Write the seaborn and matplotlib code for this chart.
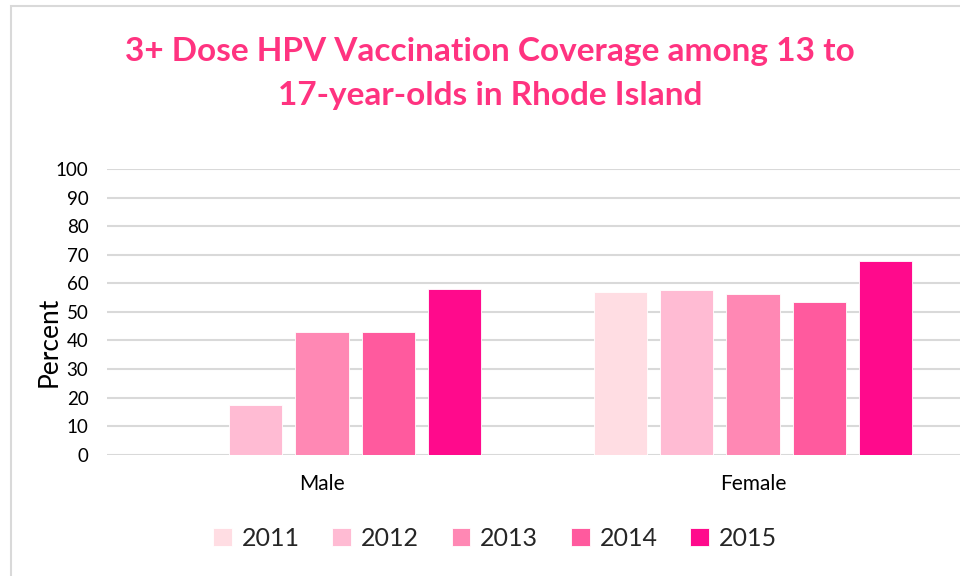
import numpy as np
import pandas as pd
import matplotlib.pyplot as plt
import seaborn as sns
from matplotlib.patches import Rectangle

# data
groups = ["Male", "Female"]
years = ["2011", "2012", "2013", "2014", "2015"]
male = [np.nan, 17.4, 43.1, 42.8, 58.0]
female = [56.8, 57.5, 56.4, 53.6, 67.9]
colors = ["#FFDDE3", "#FFBBD3", "#FF88B4", "#FF5A9E", "#FF0A8C"]
title_color = "#FF3380"

df = pd.DataFrame({
    "group": np.repeat(groups, len(years)),
    "year": years * len(groups),
    "value": male + female,
})

sns.set_theme(style="white")
plt.rcParams["font.family"] = ["Lato", "DejaVu Sans"]

W, H = 960, 576
fig = plt.figure(figsize=(9.6, 5.76), dpi=100)

# light frame of the chart area
fig.patches.append(Rectangle((11 / W, -0.1), 1.2, (H - 6) / H + 0.1,
                             transform=fig.transFigure, fill=False,
                             edgecolor="#D9D9D9", lw=1.5, zorder=0))

ax = fig.add_axes([106.5 / W, 121.3 / H, 862 / W, 285.7 / H])
sns.barplot(data=df, x="group", y="value", hue="year", hue_order=years,
            palette=colors, width=0.77, gap=0.2, ax=ax, legend=True,
            saturation=1, edgecolor="white", linewidth=0.6)

ax.set_xlim(-0.5, 1.5)
ax.set_ylim(0, 100)
ax.set_yticks(range(0, 101, 10))
ax.yaxis.grid(True, color="#D9D9D9", lw=1.5)
ax.set_axisbelow(True)
for s in ax.spines.values():
    s.set_visible(False)
ax.tick_params(axis="y", labelsize=13.5, length=0, pad=13, labelcolor="black")
ax.tick_params(axis="x", labelsize=15, length=0, pad=14, labelcolor="black")
ax.set_xlabel("")
ax.set_ylabel("Percent", fontsize=19, color="black")
# the label sits a bit below the middle of the axis, as in the original
ax.yaxis.set_label_coords(-0.052, 0.394)

handles, labels = ax.get_legend_handles_labels()
ax.legend_.remove()
fig.legend(handles, labels, loc="center", bbox_to_anchor=(495 / W, 1 - 538 / H),
           ncol=5, frameon=False, fontsize=18, handlelength=0.75,
           handleheight=0.75, handletextpad=0.4, columnspacing=1.3)

fig.text(490 / W, 1 - 52 / H, "3+ Dose HPV Vaccination Coverage among 13 to",
         ha="center", va="center", fontsize=24, fontweight="bold", color=title_color)
fig.text(490 / W, 1 - 95 / H, "17-year-olds in Rhode Island",
         ha="center", va="center", fontsize=24, fontweight="bold", color=title_color)

fig.savefig("out.png", dpi=100)
